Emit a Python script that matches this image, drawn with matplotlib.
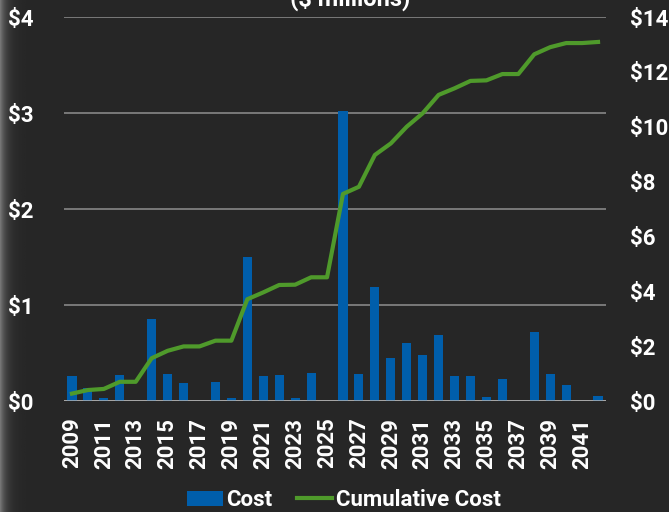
import numpy as np
import matplotlib
matplotlib.use("Agg")
import matplotlib.pyplot as plt
from matplotlib.patches import Patch
from matplotlib.lines import Line2D

plt.rcParams['font.family'] = ['Roboto', 'DejaVu Sans']
plt.rcParams['font.weight'] = 'bold'

# annual and running cost, $ millions
years = list(range(2009, 2043))
cost = [0.26, 0.14, 0.03, 0.27, 0.00, 0.85, 0.28, 0.19, 0.00, 0.20,
        0.03, 1.50, 0.26, 0.27, 0.03, 0.29, 0.00, 3.02, 0.28, 1.19,
        0.45, 0.60, 0.48, 0.69, 0.26, 0.26, 0.04, 0.23, 0.00, 0.72,
        0.28, 0.17, 0.00, 0.05]
cumulative = [0.27, 0.40, 0.44, 0.70, 0.70, 1.56, 1.83, 1.99, 1.99, 2.20,
              2.20, 3.71, 3.96, 4.23, 4.24, 4.51, 4.51, 7.55, 7.81, 8.97,
              9.39, 10.00, 10.49, 11.16, 11.40, 11.67, 11.69, 11.92, 11.92, 12.64,
              12.90, 13.05, 13.05, 13.09]
left_ticks = [0, 1, 2, 3, 4]
right_ticks = [0, 2, 4, 6, 8, 10, 12, 14]

BG = '#262626'
BLUE = '#005EAB'
GREEN = '#4F9A2B'
W, H = 669, 512
FS = 16

fig = plt.figure(figsize=(W / 100, H / 100), dpi=100, facecolor=BG)

# lighter strip fading in on the left edge
edge = fig.add_axes([0, 0, 26 / W, 1])
xs = np.linspace(0, 1, 60)
shade = 0.15 + 0.33 * np.exp(-xs * 4.5)
edge.imshow(np.tile(shade, (2, 1)), cmap='gray', vmin=0, vmax=1,
            aspect='auto', extent=[0, 1, 0, 1])
edge.axis('off')

ax = fig.add_axes([64 / W, 1 - 401 / H, 542 / W, 384 / H])
ax.set_facecolor('none')
x = np.arange(len(years))
ax.bar(x, cost, width=0.57, color=BLUE, zorder=2)
ax.set_xlim(-0.5, len(years) - 0.5)
ax.set_ylim(0, 4)
ax.set_yticks(left_ticks)
ax.set_yticklabels(['${}'.format(v) for v in left_ticks])
ax.grid(axis='y', color='#7f7f7f', lw=1.3, zorder=0)
ax.set_axisbelow(True)
ax.axhline(0, color='#b4b4b4', lw=1.8, zorder=3)
for s in ax.spines.values():
    s.set_visible(False)
ax.set_xticks(x[::2])
ax.set_xticklabels([str(y) for y in years[::2]], rotation=90, fontweight='bold')
ax.tick_params(axis='x', length=0, pad=12, labelsize=FS, colors='white')
ax.tick_params(axis='y', length=0, pad=22, labelsize=FS, colors='white')
for lbl in ax.get_yticklabels():
    lbl.set_fontweight('bold')

ax2 = ax.twinx()
ax2.plot(x, cumulative, color=GREEN, lw=3, solid_joinstyle='round', zorder=4)
ax2.set_ylim(0, 14)
ax2.set_yticks(right_ticks)
ax2.set_yticklabels(['${}'.format(v) for v in right_ticks], fontweight='bold')
for s in ax2.spines.values():
    s.set_visible(False)
ax2.tick_params(axis='y', length=0, pad=17, labelsize=FS, colors='white')
for lbl in ax2.get_yticklabels():
    lbl.set_horizontalalignment('left')

fig.text(350 / W, 1 - 6 / H, '($ millions)', ha='center', va='baseline',
         color='white', fontsize=17, fontweight='bold')

handles = [Patch(facecolor=BLUE, edgecolor='none'),
           Line2D([0], [0], color=GREEN, lw=3)]
fig.legend(handles, ['Cost', 'Cumulative Cost'], loc='center',
           bbox_to_anchor=(344 / W, 1 - 500 / H), ncol=2, frameon=False,
           prop={'size': FS, 'weight': 'bold'}, labelcolor='white',
           handlelength=1.6, handleheight=0.65, handletextpad=0.15,
           columnspacing=1.1)

fig.savefig('out.png', dpi=100, facecolor=BG)
